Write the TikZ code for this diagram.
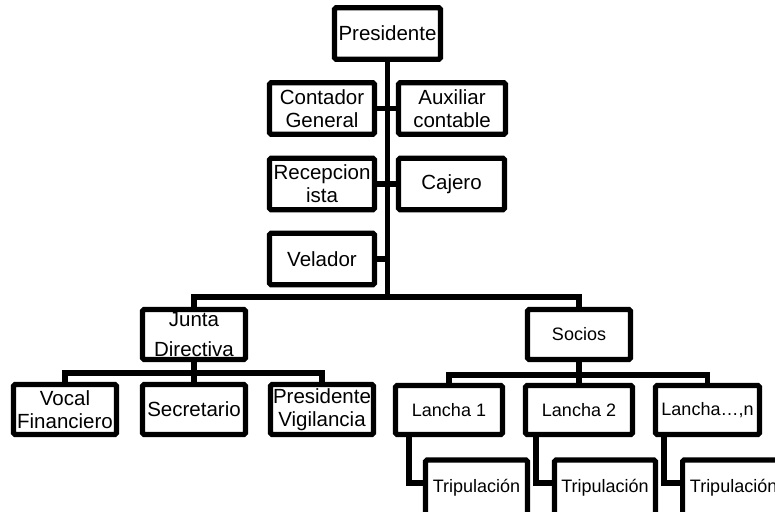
\documentclass[tikz,border=0pt]{standalone}
\usepackage{fontspec}
\setmainfont{Liberation Sans}
\begin{document}
\begin{tikzpicture}[x=1pt,y=-1pt,
  box/.style={draw=black,line width=5.2pt,rounded corners=1.5pt,fill=white,inner sep=0pt,align=center,
    minimum width=105pt,minimum height=51.5pt,font=\fontsize{20.5}{23}\selectfont},
  small/.style={font=\fontsize{18}{21}\selectfont},
  conn/.style={line width=5.2pt}]
\useasboundingbox (0,0) rectangle (775,511);
\clip (0,0) rectangle (775,511);
% boxes
\node[box,minimum width=106pt] (pres) at (387.5,33.5) {Presidente};
\node[box] (cont) at (322,108.5) {Contador\\General};
\node[box,minimum width=107pt] (aux) at (452,108.5) {Auxiliar\\contable};
\node[box] (rec) at (322,184) {Recepcion\\ista};
\node[box,minimum width=106pt] (caj) at (451.5,184) {Cajero};
\node[box] (vel) at (322,259) {Velador};
\node[box,minimum width=103pt,minimum height=50pt,font=\fontsize{20.5}{30}\selectfont] (junta) at (194,334.5) {Junta\\Directiva};
\node[box,minimum width=103pt,minimum height=50pt] (vocal) at (65,409.5) {Vocal\\Financiero};
\node[box,minimum width=103pt,minimum height=50pt] (sec) at (194,409.5) {Secretario};
\node[box,minimum width=103pt,minimum height=50pt] (presv) at (322,409.5) {Presidente\\Vigilancia};
\node[box,small,minimum width=103pt,minimum height=50pt] (soc) at (579,334.5) {Socios};
\node[box,small,minimum width=107pt,minimum height=49pt] (l1) at (449,410) {Lancha 1};
\node[box,small,minimum width=107pt,minimum height=49pt] (l2) at (579,410) {Lancha 2};
\node[box,small,minimum width=104pt,minimum height=49pt] (ln) at (707.5,410) {Lancha…,n};
\node[box,small,minimum width=102pt,minimum height=56pt] (t1) at (476.5,488) {Tripulación};
\node[box,small,minimum width=101pt,minimum height=56pt] (t2) at (605,488) {Tripulación};
\node[box,small,minimum width=102pt,minimum height=56pt,anchor=west] (t3) at (680,488) {Tripulación};
% connectors
\coordinate (hb) at (0,297);
\coordinate (jb) at (0,373);
\coordinate (sb) at (0,375);
\draw[conn] (pres.south) -- (pres.south |- hb);
\draw[conn] (cont.east) -- (aux.west);
\draw[conn] (rec.east) -- (caj.west);
\draw[conn] (vel.east) -- (vel.east -| pres.south);
\draw[conn] (junta.north) -- (junta.north |- hb) -- (soc.north |- hb) -- (soc.north);
\draw[conn] (junta.south) -- (junta.south |- jb);
\draw[conn] (vocal.north) -- (vocal.north |- jb) -- (presv.north |- jb) -- (presv.north);
\draw[conn] (sec.north) -- (sec.north |- jb);
\draw[conn] (soc.south) -- (soc.south |- sb);
\draw[conn] (l1.north) -- (l1.north |- sb) -- (ln.north |- sb) -- (ln.north);
\draw[conn] (l2.north) -- (l2.north |- sb);
\draw[conn] ([xshift=16pt]l1.south west) |- ([yshift=5pt]t1.west);
\draw[conn] ([xshift=13pt]l2.south west) |- ([yshift=5pt]t2.west);
\draw[conn] ([xshift=11pt]ln.south west) |- ([yshift=5pt]t3.west);
\end{tikzpicture}
\end{document}
